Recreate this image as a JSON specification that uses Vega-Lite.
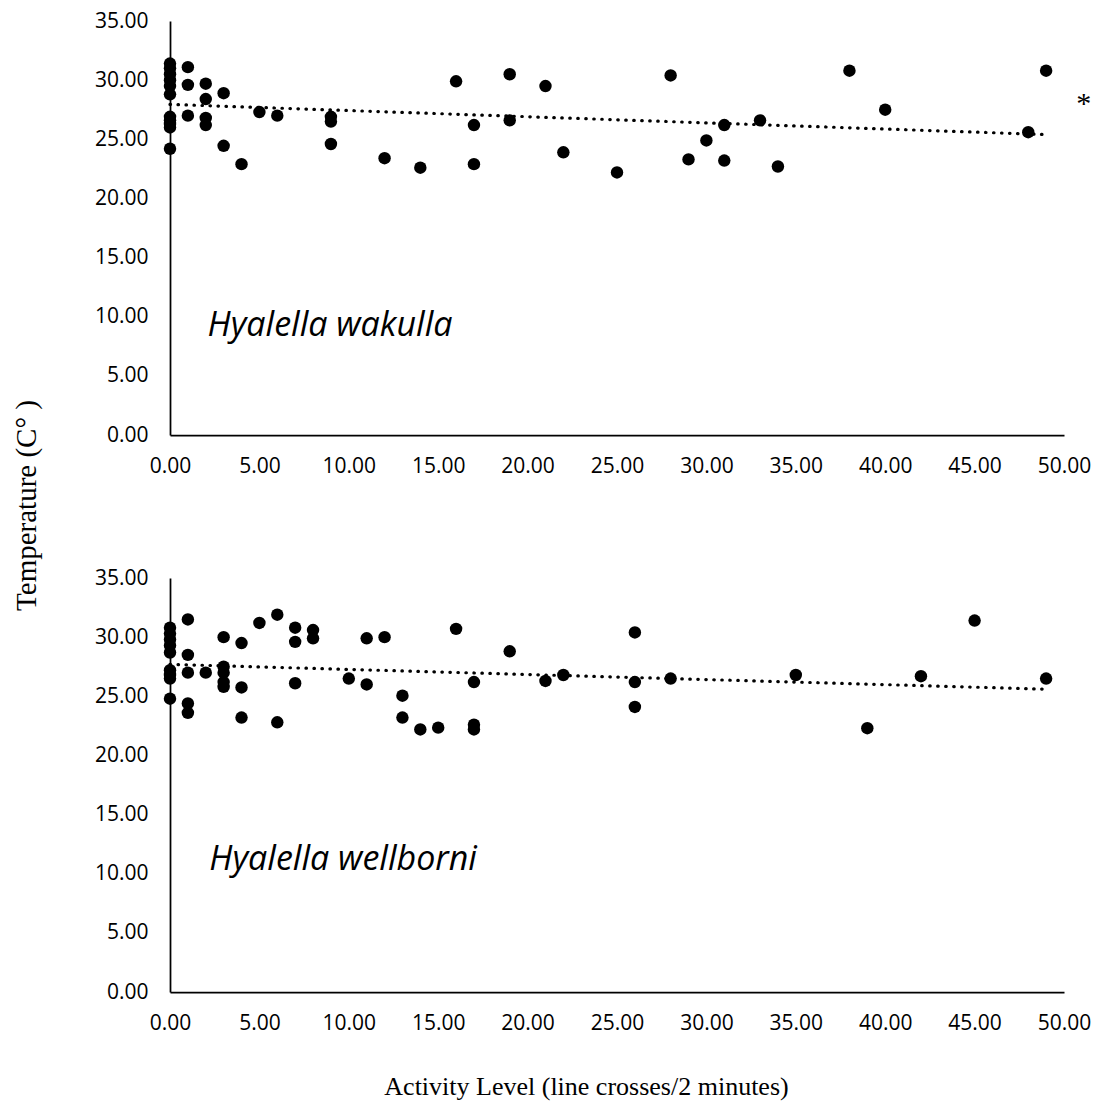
{
  "$schema": "https://vega.github.io/schema/vega-lite/v6.json",
  "background": "white",
  "padding": {"left": 12, "top": 10, "right": 5, "bottom": 5},
  "config": {
    "view": {"stroke": null},
    "font": "Open Sans",
    "axis": {
      "grid": false,
      "ticks": false,
      "tickSize": 0,
      "domainColor": "black",
      "domainWidth": 1.75,
      "labelFont": "Open Sans",
      "labelFontSize": 21,
      "labelColor": "black",
      "labelFlush": false,
      "labelOverlap": false,
      "format": ".2f"
    }
  },
  "datasets": {
    "wakulla": [
      {"activity": 0, "temp": 31.4}, {"activity": 0, "temp": 31.0}, {"activity": 0, "temp": 30.5}, {"activity": 0, "temp": 30.0},
      {"activity": 0, "temp": 29.5}, {"activity": 0, "temp": 28.8}, {"activity": 0, "temp": 26.9}, {"activity": 0, "temp": 26.6},
      {"activity": 0, "temp": 26.3}, {"activity": 0, "temp": 26.0}, {"activity": 0, "temp": 24.2},
      {"activity": 1, "temp": 31.1}, {"activity": 1, "temp": 29.6}, {"activity": 1, "temp": 27.0},
      {"activity": 2, "temp": 29.7}, {"activity": 2, "temp": 28.4}, {"activity": 2, "temp": 26.8}, {"activity": 2, "temp": 26.2},
      {"activity": 3, "temp": 28.9}, {"activity": 3, "temp": 24.45},
      {"activity": 4, "temp": 22.9},
      {"activity": 5, "temp": 27.3},
      {"activity": 6, "temp": 27.0},
      {"activity": 9, "temp": 26.9}, {"activity": 9, "temp": 26.5}, {"activity": 9, "temp": 24.6},
      {"activity": 12, "temp": 23.4},
      {"activity": 14, "temp": 22.6},
      {"activity": 16, "temp": 29.9},
      {"activity": 17, "temp": 26.2}, {"activity": 17, "temp": 22.9},
      {"activity": 19, "temp": 30.5}, {"activity": 19, "temp": 26.6},
      {"activity": 21, "temp": 29.5},
      {"activity": 22, "temp": 23.9},
      {"activity": 25, "temp": 22.2},
      {"activity": 28, "temp": 30.4},
      {"activity": 29, "temp": 23.3},
      {"activity": 30, "temp": 24.9},
      {"activity": 31, "temp": 26.2}, {"activity": 31, "temp": 23.2},
      {"activity": 33, "temp": 26.6},
      {"activity": 34, "temp": 22.7},
      {"activity": 38, "temp": 30.8},
      {"activity": 40, "temp": 27.5},
      {"activity": 48, "temp": 25.6},
      {"activity": 49, "temp": 30.8}
    ],
    "wellborni": [
      {"activity": 0, "temp": 30.8}, {"activity": 0, "temp": 30.3}, {"activity": 0, "temp": 29.8}, {"activity": 0, "temp": 29.3},
      {"activity": 0, "temp": 28.7}, {"activity": 0, "temp": 27.2}, {"activity": 0, "temp": 26.8}, {"activity": 0, "temp": 26.5},
      {"activity": 0, "temp": 24.8},
      {"activity": 1, "temp": 31.5}, {"activity": 1, "temp": 28.5}, {"activity": 1, "temp": 27.0}, {"activity": 1, "temp": 24.4}, {"activity": 1, "temp": 23.6},
      {"activity": 2, "temp": 27.0},
      {"activity": 3, "temp": 30.0}, {"activity": 3, "temp": 27.5}, {"activity": 3, "temp": 27.0}, {"activity": 3, "temp": 26.2}, {"activity": 3, "temp": 25.8},
      {"activity": 4, "temp": 29.5}, {"activity": 4, "temp": 25.75}, {"activity": 4, "temp": 23.2},
      {"activity": 5, "temp": 31.2},
      {"activity": 6, "temp": 31.9}, {"activity": 6, "temp": 22.8},
      {"activity": 7, "temp": 30.8}, {"activity": 7, "temp": 29.6}, {"activity": 7, "temp": 26.1},
      {"activity": 8, "temp": 30.6}, {"activity": 8, "temp": 29.9},
      {"activity": 10, "temp": 26.5},
      {"activity": 11, "temp": 29.9}, {"activity": 11, "temp": 26.0},
      {"activity": 12, "temp": 30.0},
      {"activity": 13, "temp": 25.05}, {"activity": 13, "temp": 23.2},
      {"activity": 14, "temp": 22.2},
      {"activity": 15, "temp": 22.35},
      {"activity": 16, "temp": 30.7},
      {"activity": 17, "temp": 26.2}, {"activity": 17, "temp": 22.6}, {"activity": 17, "temp": 22.2},
      {"activity": 19, "temp": 28.8},
      {"activity": 21, "temp": 26.3},
      {"activity": 22, "temp": 26.8},
      {"activity": 26, "temp": 30.4}, {"activity": 26, "temp": 26.2}, {"activity": 26, "temp": 24.1},
      {"activity": 28, "temp": 26.5},
      {"activity": 35, "temp": 26.8},
      {"activity": 39, "temp": 22.3},
      {"activity": 42, "temp": 26.7},
      {"activity": 45, "temp": 31.4},
      {"activity": 49, "temp": 26.5}
    ],
    "trend_wakulla": [
      {"activity": 0, "temp": 27.95}, {"activity": 49, "temp": 25.4}
    ],
    "trend_wellborni": [
      {"activity": 0, "temp": 27.7}, {"activity": 49, "temp": 25.6}
    ]
  },
  "spacing": 143,
  "bounds": "flush",
  "vconcat": [
    {
      "width": 894,
      "height": 414,
      "layer": [
        {
          "data": {"name": "trend_wakulla"},
          "mark": {"type": "line", "color": "black", "strokeWidth": 3.2, "strokeDash": [0.5, 7.5], "strokeCap": "round"},
          "encoding": {
            "x": {"field": "activity", "type": "quantitative", "scale": {"domain": [0, 50]},
                  "axis": {"values": [0, 5, 10, 15, 20, 25, 30, 35, 40, 45, 50], "title": null, "labelPadding": 20}},
            "y": {"field": "temp", "type": "quantitative", "scale": {"domain": [0, 35]},
                  "axis": {"values": [0, 5, 10, 15, 20, 25, 30, 35], "title": null, "labelPadding": 22}}
          }
        },
        {
          "data": {"name": "wakulla"},
          "mark": {"type": "circle", "color": "black", "opacity": 1, "size": 155},
          "encoding": {
            "x": {"field": "activity", "type": "quantitative"},
            "y": {"field": "temp", "type": "quantitative"}
          }
        },
        {
          "data": {"values": [{}]},
          "mark": {"type": "text", "text": "Hyalella wakulla", "font": "Open Sans", "fontStyle": "italic", "fontSize": 34, "align": "left", "baseline": "middle", "color": "black"},
          "encoding": {
            "x": {"datum": 2.1, "type": "quantitative"},
            "y": {"datum": 9.2, "type": "quantitative"}
          }
        },
        {
          "data": {"values": [{}]},
          "mark": {"type": "text", "text": "*", "font": "Liberation Serif", "fontSize": 30, "align": "center", "baseline": "middle", "color": "black"},
          "encoding": {
            "x": {"datum": 51.1, "type": "quantitative"},
            "y": {"datum": 28.0, "type": "quantitative"}
          }
        }
      ]
    },
    {
      "width": 894,
      "height": 414,
      "layer": [
        {
          "data": {"name": "trend_wellborni"},
          "mark": {"type": "line", "color": "black", "strokeWidth": 3.2, "strokeDash": [0.5, 7.5], "strokeCap": "round"},
          "encoding": {
            "x": {"field": "activity", "type": "quantitative", "scale": {"domain": [0, 50]},
                  "axis": {"values": [0, 5, 10, 15, 20, 25, 30, 35, 40, 45, 50], "title": "Activity Level (line crosses/2 minutes)",
                           "titleFont": "Liberation Serif", "titleFontSize": 26, "titleFontWeight": "normal", "titleColor": "black",
                           "titleX": 416, "titleAlign": "center", "titlePadding": 40, "labelPadding": 20}},
            "y": {"field": "temp", "type": "quantitative", "scale": {"domain": [0, 35]},
                  "axis": {"values": [0, 5, 10, 15, 20, 25, 30, 35], "title": "Temperature (C° )", "labelPadding": 22,
                           "titleFont": "Liberation Serif", "titleFontSize": 29, "titleFontWeight": "normal", "titleColor": "black",
                           "titleAngle": -90, "titleX": -144, "titleY": -73, "titleAlign": "center", "titleBaseline": "middle"}}
          }
        },
        {
          "data": {"name": "wellborni"},
          "mark": {"type": "circle", "color": "black", "opacity": 1, "size": 155},
          "encoding": {
            "x": {"field": "activity", "type": "quantitative"},
            "y": {"field": "temp", "type": "quantitative"}
          }
        },
        {
          "data": {"values": [{}]},
          "mark": {"type": "text", "text": "Hyalella wellborni", "font": "Open Sans", "fontStyle": "italic", "fontSize": 34, "align": "left", "baseline": "middle", "color": "black"},
          "encoding": {
            "x": {"datum": 2.2, "type": "quantitative"},
            "y": {"datum": 11.2, "type": "quantitative"}
          }
        }
      ]
    }
  ]
}
